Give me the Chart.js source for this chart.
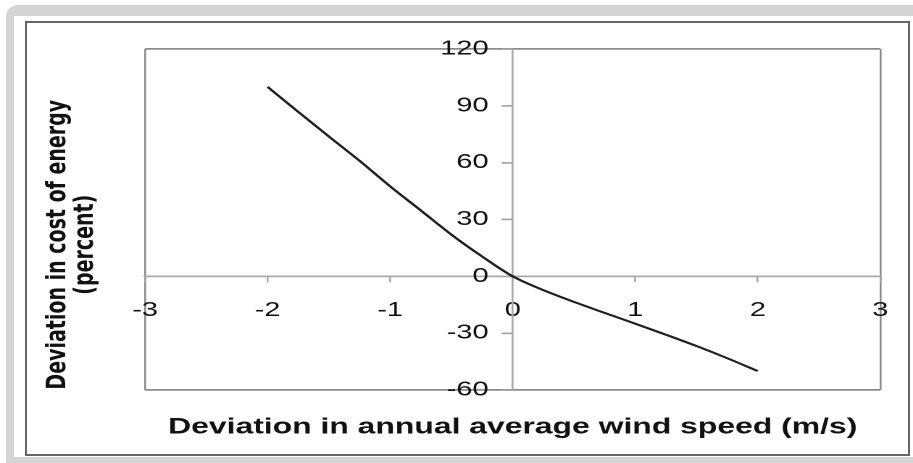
<!DOCTYPE html>
<html>
<head>
<meta charset="utf-8">
<script src="https://cdn.jsdelivr.net/npm/chart.js@4/dist/chart.umd.min.js"></script>
<style>
  html, body { margin: 0; padding: 0; background: #ffffff; }
  body { width: 913px; height: 463px; position: relative; overflow: hidden; }
  .frame { position: absolute; left: 6px; top: 5px; width: 907px; height: 458px; background: #d4d4d4; border-top-left-radius: 12px; }
  .panel { position: absolute; left: 14px; top: 16px; width: 899px; height: 441px; background: #ffffff; }
  .box { position: absolute; left: 25px; top: 21px; width: 881px; height: 431px; border: 2px solid #666666; }
  /* chart is laid out narrow, then widened to the page */
  .wrap { position: absolute; left: 0; top: 0; width: 630px; height: 463px; transform: scaleX(1.44921); transform-origin: 0 0; }
</style>
</head>
<body>
<div class="frame"></div>
<div class="panel"></div>
<div class="box"></div>
<div class="wrap"><canvas id="c"></canvas></div>
<script>
// Deviation in annual average wind speed (m/s)
const windDev = [-2, -1.75, -1.5, -1.25, -1, -0.75, -0.5, -0.25, 0, 0.25, 0.5, 0.75, 1, 1.25, 1.5, 1.75, 2];
// Deviation in cost of energy (percent)
const coeDev = [100, 86.8, 73.8, 61, 47.5, 34.8, 22, 10.5, 0, -7.3, -13.5, -19.3, -25, -30.8, -36.8, -43.2, -50];

const xTitle = 'Deviation in annual average wind speed (m/s)';
const yTitle = ['Deviation in cost of energy', '(percent)'];
const xRange = [-3, 3];
const yRange = [-60, 120];

const frameGray = '#8c8c8c';
const edgeOnly = (ctx) => {
  const n = ctx.scale.ticks.length;
  return (ctx.index === 0 || ctx.index === n - 1) ? frameGray : 'rgba(0,0,0,0)';
};
// the y axis sits on x = 0, so its labels are pushed clear of the tick marks
const yLabelGap = '   ';

new Chart(document.getElementById('c'), {
  type: 'line',
  data: {
    datasets: [{
      data: windDev.map((x, i) => ({ x: x, y: coeDev[i] })),
      borderColor: '#1e1e1e',
      borderWidth: 2,
      pointRadius: 0,
      cubicInterpolationMode: 'monotone',
      fill: false
    }]
  },
  options: {
    responsive: true,
    maintainAspectRatio: false,
    devicePixelRatio: 2,
    animation: false,
    layout: { padding: { left: 0, right: 21.4, top: 49, bottom: 22.6 } },
    plugins: {
      legend: { display: false },
      tooltip: { enabled: false },
      title: {
        display: true,
        position: 'bottom',
        fullSize: false,
        text: xTitle,
        color: '#111111',
        font: { family: 'Liberation Sans, Arial, sans-serif', size: 22, weight: 'bold', lineHeight: 1.2 },
        padding: { top: 24, bottom: 0 }
      },
      subtitle: {
        display: true,
        position: 'left',
        text: yTitle,
        color: '#111111',
        font: { family: 'DejaVu Sans, sans-serif', size: 19, weight: 'bold', lineHeight: 1.0 },
        padding: { top: 30.5, bottom: 31.6 }
      }
    },
    scales: {
      x: {
        type: 'linear',
        min: xRange[0],
        max: xRange[1],
        position: { y: 0 },
        ticks: {
          stepSize: 1,
          padding: 17,
          color: '#111111',
          font: { family: 'Liberation Sans, Arial, sans-serif', size: 20 }
        },
        grid: {
          color: edgeOnly,
          lineWidth: 1.3,
          drawTicks: true,
          tickLength: 5,
          tickColor: '#a0a0a0',
          tickWidth: 1.2
        },
        border: { display: true, color: '#a8a8a8', width: 1.8 }
      },
      y: {
        type: 'linear',
        min: yRange[0],
        max: yRange[1],
        position: { x: 0 },
        ticks: {
          stepSize: 30,
          padding: 10.5,
          color: '#111111',
          font: { family: 'Liberation Sans, Arial, sans-serif', size: 20 },
          callback: (v) => v + yLabelGap
        },
        grid: {
          color: edgeOnly,
          lineWidth: 1.8,
          drawTicks: true,
          tickLength: 6.9,
          tickColor: '#a0a0a0',
          tickWidth: 1.6
        },
        border: { display: true, color: '#a8a8a8', width: 1.3 }
      }
    }
  }
});
</script>
</body>
</html>
